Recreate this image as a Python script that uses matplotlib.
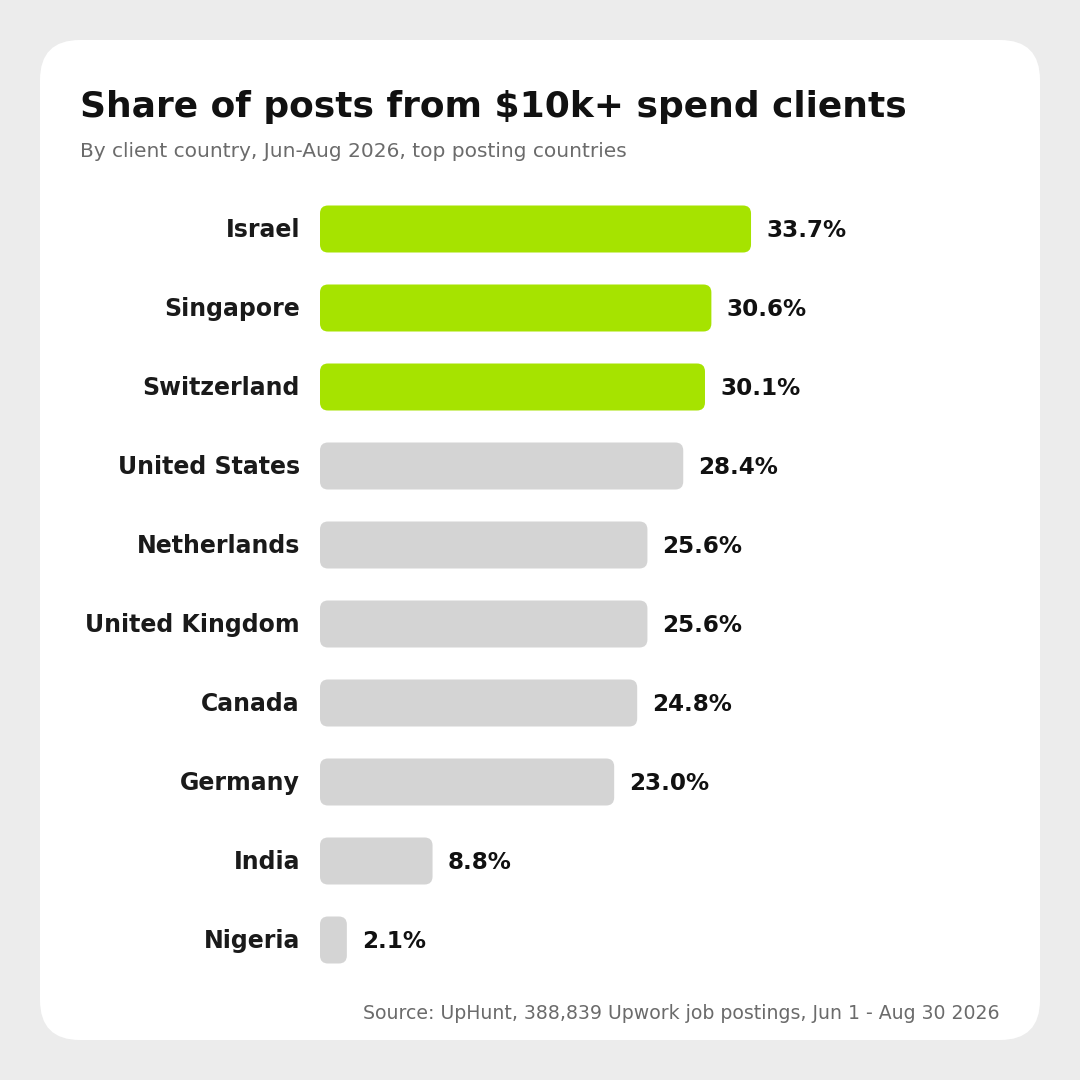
import matplotlib.pyplot as plt
from matplotlib.patches import FancyBboxPatch

# Data
countries = ["Israel", "Singapore", "Switzerland", "United States", "Netherlands",
             "United Kingdom", "Canada", "Germany", "India", "Nigeria"]
shares = [33.7, 30.6, 30.1, 28.4, 25.6, 25.6, 24.8, 23.0, 8.8, 2.1]
highlight = [True, True, True, False, False, False, False, False, False, False]

GREEN = "#a6e300"
GREY = "#d4d4d4"
DARK = "#1a1a1a"
MUTED = "#6b6b6b"

W = H = 1080
fig = plt.figure(figsize=(10.8, 10.8), dpi=100, facecolor="#ececec")

# white card
card = FancyBboxPatch((40 / W, 40 / H), 1000 / W, 1000 / H,
                      boxstyle="round,pad=0,rounding_size=0.037",
                      transform=fig.transFigure, facecolor="white",
                      edgecolor="none", zorder=-10)
fig.patches.append(card)

fig.text(80 / W, 1 - 106.5 / H, "Share of posts from $10k+ spend clients",
         fontsize=25.95, fontweight="bold", color="#111111", va="center", ha="left")
fig.text(80 / W, 1 - 151.5 / H, "By client country, Jun-Aug 2026, top posting countries",
         fontsize=14.5, color=MUTED, va="center", ha="left")
fig.text(1000 / W, 1 - 1013.5 / H,
         "Source: UpHunt, 388,839 Upwork job postings, Jun 1 - Aug 30 2026",
         fontsize=13.6, color=MUTED, va="center", ha="right")

# axes: xlim 0..50 spans 639.5 px, rows 79 px apart
left, right = 320, 320 + 50 * 12.79
top, bottom = 189.5, 979.5
ax = fig.add_axes([left / W, 1 - bottom / H, (right - left) / W, (bottom - top) / H])
ax.set_xlim(0, 50)
ax.set_ylim(len(countries) - 0.5, -0.5)
ax.axis("off")

bar_h = 47 / 79
px_x = 12.79
px_y = 79
r = 8 / px_x
for i, (c, v, hl) in enumerate(zip(countries, shares, highlight)):
    col = GREEN if hl else GREY
    p = FancyBboxPatch((0, i - bar_h / 2), v, bar_h,
                       boxstyle=f"round,pad=0,rounding_size={r}",
                       mutation_aspect=px_x / px_y,
                       facecolor=col, edgecolor="none")
    ax.add_patch(p)
    ax.annotate(f"{v:.1f}%", (v, i), xytext=(10.8, -1), textcoords="offset points",
                va="center", ha="left", fontsize=16.6, fontweight="bold", color="#111111",
                annotation_clip=False)
    ax.annotate(c, (0, i), xytext=(-14.4, -0.5), textcoords="offset points",
                va="center", ha="right", fontsize=17, fontweight="bold", color=DARK,
                annotation_clip=False)

fig.savefig("out.png", dpi=100, facecolor=fig.get_facecolor())
